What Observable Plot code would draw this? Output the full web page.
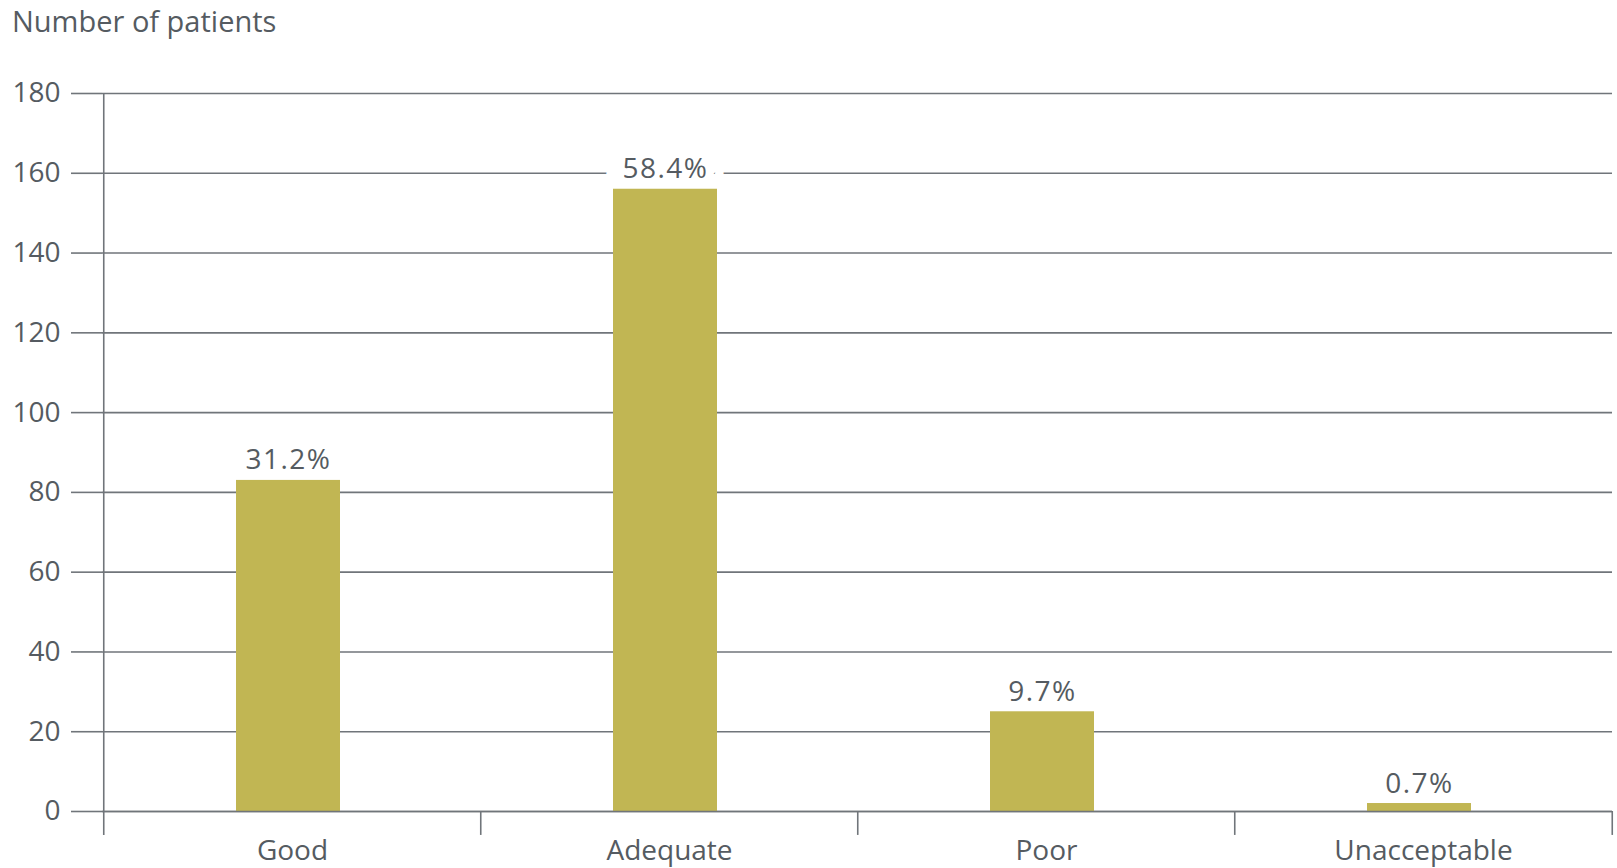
<!DOCTYPE html>
<html>
<head>
<meta charset="utf-8">
<script src="https://cdn.jsdelivr.net/npm/d3@7"></script>
<script src="https://cdn.jsdelivr.net/npm/@observablehq/plot@0.6"></script>
<style>
  html, body { margin: 0; padding: 0; background: #ffffff; }
  body { width: 1617px; height: 868px; overflow: hidden; font-family: "Open Sans", sans-serif; }
  #title { height: 39px; padding: 6px 0 0 12px; font-size: 29px; line-height: 29px; color: #555b61; }
  #chart svg { display: block; }
  #chart svg g.share-labels { letter-spacing: 1.5px; }
</style>
</head>
<body>
<div id="title">Number of patients</div>
<div id="chart"></div>
<script>
// Patient ratings by category
const categories = ["Good", "Adequate", "Poor", "Unacceptable"];
const patients = [83, 156, 25, 2];
const shares = ["31.2%", "58.4%", "9.7%", "0.7%"];
const yTicks = [0, 20, 40, 60, 80, 100, 120, 140, 160, 180];

const data = categories.map((c, i) => ({category: c, patients: patients[i], share: shares[i]}));

const W = 1617, H = 823;
const mL = 102, mR = 5, mT = 48, mB = 57;
const step = (W - mL - mR) / categories.length;

const lineColor = "#70757a";
const textColor = "#555b61";
const barColor = "#c1b653";

// category boundary ticks below the baseline; the first one doubles as the y-axis line
const bounds = [
  ...categories.map((c, i) => ({category: c, side: -1, top: i === 0 ? 180 : 0})),
  {category: categories[categories.length - 1], side: 1, top: 0}
];

const chart = Plot.plot({
  width: W,
  height: H,
  marginTop: mT,
  marginBottom: mB,
  marginLeft: mL,
  marginRight: mR,
  style: {fontFamily: "'Open Sans', sans-serif", fontSize: "28px", color: textColor, background: "#ffffff"},
  x: {domain: categories, paddingInner: 0.725, paddingOuter: 0.3625, label: null},
  y: {domain: [0, 180], label: null},
  marks: [
    Plot.gridY(yTicks, {stroke: lineColor, strokeOpacity: 1, strokeWidth: 1.6}),
    Plot.text(data, {
      x: "category", y: "patients", text: "share",
      lineAnchor: "bottom", dy: -11, dx: -4,
      fill: textColor, fontSize: 28,
      stroke: "#ffffff", strokeWidth: 36, strokeLinejoin: "round",
      className: "share-labels"
    }),
    Plot.barY(data, {x: "category", y: "patients", fill: barColor, dx: -4}),
    Plot.ruleY([0], {stroke: lineColor, strokeWidth: 1.6}),
    Plot.axisY(yTicks, {tickSize: 31, tickPadding: 11, stroke: lineColor, strokeWidth: 1.6, fill: textColor, fontSize: 28, label: null}),
    Plot.axisX({tickSize: 0, tickPadding: 29, fill: textColor, fontSize: 28, label: null}),
    Plot.ruleX(bounds.filter(d => d.side < 0), {x: "category", y1: -6, y2: "top", dx: -step / 2, stroke: lineColor, strokeWidth: 1.6}),
    Plot.ruleX(bounds.filter(d => d.side > 0), {x: "category", y1: -6, y2: "top", dx: step / 2, stroke: lineColor, strokeWidth: 1.6})
  ]
});

document.getElementById("chart").appendChild(chart);
</script>
</body>
</html>
